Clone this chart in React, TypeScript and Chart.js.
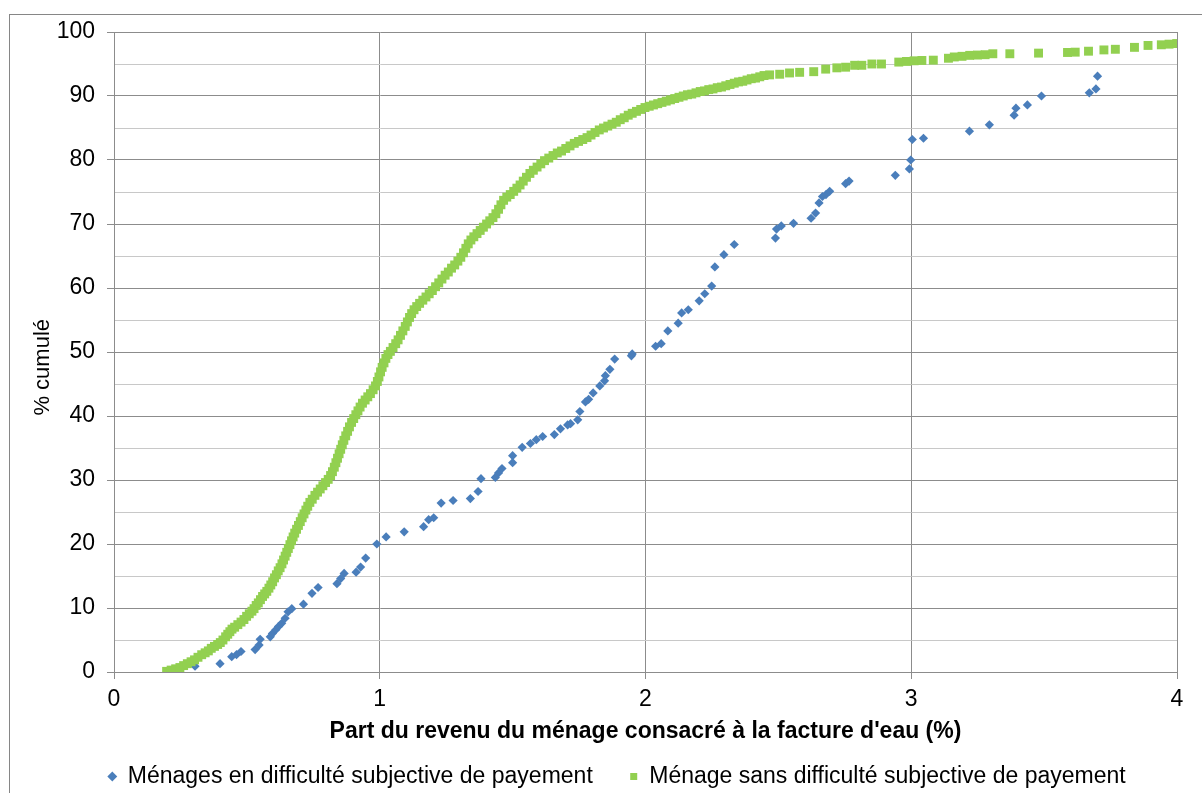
import React, { useEffect, useRef } from "react";
import { Chart, registerables } from "chart.js";

Chart.register(...registerables);

const FONT = '"Liberation Sans", Arial, sans-serif';

const seriesNames = [
  "Ménages en difficulté subjective de payement",
  "Ménage sans difficulté subjective de payement",
];
const xTitle = "Part du revenu du ménage consacré à la facture d'eau (%)";
const yTitle = "% cumulé";

const xRange = [0, 4];
const yRange = [0, 100];

// Ménages en difficulté (blue diamonds): [part du revenu %, % cumulé]
const bluePoints: [number, number][] = [
  [0.305, 0.9], [0.399, 1.3], [0.443, 2.4], [0.461, 2.7], [0.478, 3.2], [0.531, 3.5], [0.546, 4.2],
  [0.55, 5.1], [0.588, 5.5], [0.596, 6.0], [0.609, 6.6], [0.619, 7.1], [0.631, 7.6], [0.644, 8.4],
  [0.655, 9.4], [0.669, 9.9], [0.713, 10.6], [0.745, 12.3], [0.768, 13.2], [0.839, 13.8], [0.853, 14.6],
  [0.866, 15.4], [0.911, 15.6], [0.928, 16.4], [0.947, 17.8], [0.989, 20.0], [1.024, 21.1], [1.092, 21.9],
  [1.165, 22.7], [1.184, 23.8], [1.203, 24.1], [1.231, 26.4], [1.276, 26.8], [1.341, 27.1], [1.37, 28.2],
  [1.381, 30.2], [1.435, 30.4], [1.447, 31.1], [1.46, 31.8], [1.5, 32.7], [1.5, 33.8], [1.536, 35.1],
  [1.567, 35.7], [1.589, 36.3], [1.613, 36.8], [1.657, 37.1], [1.68, 38.0], [1.707, 38.6], [1.718, 38.8],
  [1.745, 39.4], [1.753, 40.7], [1.774, 42.2], [1.786, 42.6], [1.803, 43.6], [1.828, 44.7], [1.846, 45.5],
  [1.849, 46.3], [1.866, 47.3], [1.884, 48.9], [1.947, 49.4], [1.95, 49.7], [2.038, 50.9], [2.059, 51.3],
  [2.084, 53.3], [2.123, 54.5], [2.136, 56.1], [2.161, 56.6], [2.202, 58.0], [2.223, 59.1], [2.249, 60.3],
  [2.261, 63.3], [2.295, 65.2], [2.334, 66.8], [2.489, 67.8], [2.493, 69.2], [2.511, 69.7], [2.557, 70.1],
  [2.623, 70.9], [2.64, 71.7], [2.653, 73.3], [2.666, 74.3], [2.679, 74.6], [2.693, 75.1], [2.753, 76.3],
  [2.766, 76.7], [2.94, 77.6], [2.993, 78.6], [2.998, 80.0], [3.004, 83.2], [3.046, 83.4], [3.219, 84.5],
  [3.294, 85.5], [3.387, 87.0], [3.394, 88.1], [3.437, 88.6], [3.49, 90.0], [3.67, 90.5], [3.695, 91.1],
  [3.701, 93.1],
];

// Ménages sans difficulté (green squares): [part du revenu %, % cumulé]
const greenPoints: [number, number][] = [
  [0.198, 0.1], [0.215, 0.3], [0.232, 0.5], [0.248, 0.7], [0.262, 1.0], [0.276, 1.3], [0.29, 1.6],
  [0.303, 1.9], [0.316, 2.3], [0.33, 2.7], [0.343, 3.0], [0.355, 3.3], [0.366, 3.7], [0.378, 4.0],
  [0.39, 4.3], [0.4, 4.6], [0.41, 5.0], [0.42, 5.5], [0.428, 5.9], [0.436, 6.3], [0.444, 6.7],
  [0.454, 7.0], [0.466, 7.4], [0.478, 7.8], [0.489, 8.2], [0.499, 8.7], [0.509, 9.1], [0.519, 9.5],
  [0.527, 9.9], [0.535, 10.4], [0.543, 10.8], [0.551, 11.3], [0.559, 11.8], [0.567, 12.2], [0.575, 12.6],
  [0.583, 13.1], [0.59, 13.6], [0.597, 14.1], [0.604, 14.7], [0.611, 15.2], [0.618, 15.8], [0.625, 16.3],
  [0.632, 16.9], [0.638, 17.5], [0.644, 18.1], [0.65, 18.7], [0.656, 19.3], [0.662, 19.9], [0.668, 20.5],
  [0.674, 21.1], [0.68, 21.7], [0.687, 22.3], [0.694, 22.9], [0.701, 23.5], [0.708, 24.1], [0.715, 24.7],
  [0.722, 25.3], [0.729, 25.9], [0.737, 26.5], [0.746, 27.0], [0.756, 27.6], [0.766, 28.1], [0.776, 28.6],
  [0.786, 29.1], [0.796, 29.6], [0.806, 30.1], [0.815, 30.7], [0.822, 31.3], [0.829, 32.0], [0.835, 32.7],
  [0.841, 33.4], [0.847, 34.1], [0.853, 34.8], [0.859, 35.5], [0.865, 36.2], [0.872, 36.9], [0.879, 37.6],
  [0.886, 38.3], [0.894, 39.0], [0.902, 39.6], [0.91, 40.2], [0.918, 40.8], [0.926, 41.4], [0.935, 42.0],
  [0.945, 42.5], [0.955, 43.0], [0.965, 43.5], [0.975, 44.1], [0.984, 44.7], [0.991, 45.4], [0.997, 46.1],
  [1.003, 46.9], [1.009, 47.6], [1.016, 48.3], [1.023, 49.0], [1.031, 49.6], [1.04, 50.1], [1.05, 50.7],
  [1.06, 51.3], [1.069, 51.9], [1.078, 52.6], [1.087, 53.3], [1.096, 54.0], [1.104, 54.7], [1.112, 55.4],
  [1.12, 56.0], [1.129, 56.6], [1.139, 57.1], [1.15, 57.6], [1.162, 58.1], [1.174, 58.6], [1.186, 59.1],
  [1.198, 59.6], [1.21, 60.2], [1.222, 60.8], [1.234, 61.4], [1.246, 62.0], [1.258, 62.5], [1.27, 63.1],
  [1.282, 63.6], [1.294, 64.2], [1.305, 64.8], [1.315, 65.5], [1.324, 66.2], [1.333, 66.9], [1.343, 67.5],
  [1.354, 68.0], [1.366, 68.5], [1.378, 69.0], [1.39, 69.5], [1.402, 70.0], [1.414, 70.5], [1.426, 71.0],
  [1.437, 71.6], [1.447, 72.3], [1.456, 73.0], [1.466, 73.7], [1.478, 74.2], [1.491, 74.6], [1.504, 75.1],
  [1.516, 75.6], [1.528, 76.1], [1.54, 76.7], [1.552, 77.3], [1.565, 77.9], [1.578, 78.4], [1.592, 78.9],
  [1.606, 79.4], [1.62, 79.9], [1.636, 80.3], [1.652, 80.7], [1.668, 81.1], [1.684, 81.4], [1.7, 81.8],
  [1.716, 82.2], [1.732, 82.6], [1.748, 82.9], [1.764, 83.2], [1.78, 83.5], [1.795, 83.9], [1.81, 84.3],
  [1.826, 84.7], [1.842, 85.0], [1.858, 85.3], [1.874, 85.6], [1.89, 85.9], [1.905, 86.3], [1.92, 86.6],
  [1.935, 87.0], [1.95, 87.3], [1.966, 87.6], [1.982, 87.9], [1.998, 88.2], [2.014, 88.4], [2.03, 88.6],
  [2.046, 88.8], [2.062, 89.0], [2.078, 89.2], [2.094, 89.4], [2.11, 89.6], [2.126, 89.8], [2.142, 90.0],
  [2.158, 90.2], [2.174, 90.3], [2.19, 90.5], [2.206, 90.7], [2.222, 90.8], [2.238, 91.0], [2.254, 91.1],
  [2.27, 91.3], [2.286, 91.4], [2.302, 91.6], [2.318, 91.8], [2.334, 92.0], [2.35, 92.2], [2.366, 92.3],
  [2.382, 92.5], [2.398, 92.7], [2.414, 92.8], [2.43, 93.0], [2.446, 93.2], [2.467, 93.3], [2.505, 93.4],
  [2.542, 93.6], [2.58, 93.7], [2.633, 93.8], [2.678, 94.2], [2.72, 94.4], [2.753, 94.5], [2.787, 94.8],
  [2.814, 94.8], [2.852, 95.0], [2.888, 95.0], [2.953, 95.3], [2.982, 95.4], [3.011, 95.5], [3.04, 95.55],
  [3.083, 95.6], [3.14, 95.9], [3.162, 96.1], [3.191, 96.2], [3.22, 96.35], [3.249, 96.4], [3.278, 96.45],
  [3.307, 96.6], [3.371, 96.6], [3.479, 96.7], [3.588, 96.8], [3.617, 96.85], [3.667, 97.0], [3.725, 97.2],
  [3.768, 97.3], [3.84, 97.6], [3.891, 97.9], [3.941, 98.0], [3.97, 98.1], [3.999, 98.2],
];

const BLUE = "#4A7EBB";
const GREEN = "#92D050";
const MAJOR = "#8C8C8C";
const MINOR = "#C8C8C8";

export default function App() {
  const ref = useRef<HTMLCanvasElement | null>(null);

  useEffect(() => {
    if (!ref.current) return;
    const frame = {
      id: "frame",
      beforeDraw(chart: any) {
        const ctx = chart.ctx;
        ctx.save();
        ctx.strokeStyle = "#868686";
        ctx.lineWidth = 1;
        ctx.strokeRect(9.5, 14.5, 1400, 1000);
        ctx.restore();
      },
    };
    const chart = new Chart(ref.current, {
      type: "scatter",
      data: {
        datasets: [
          {
            label: seriesNames[0],
            data: bluePoints.map(([x, y]) => ({ x, y })),
            pointStyle: "rectRot",
            pointRadius: 4.6,
            pointHoverRadius: 4.6,
            backgroundColor: BLUE,
            borderColor: BLUE,
            borderWidth: 0,
            order: 1,
          },
          {
            label: seriesNames[1],
            data: greenPoints.map(([x, y]) => ({ x, y })),
            pointStyle: "rect",
            pointRadius: 6.3,
            pointHoverRadius: 6.3,
            backgroundColor: GREEN,
            borderColor: GREEN,
            borderWidth: 0,
            order: 0,
          },
        ],
      },
      options: {
        responsive: false,
        animation: false,
        events: [],
        layout: { padding: { left: 32, right: 0, top: 32, bottom: -5 } },
        plugins: {
          tooltip: { enabled: false },
          legend: {
            position: "bottom",
            labels: {
              usePointStyle: true,
              boxWidth: 8,
              boxHeight: 7,
              padding: 5,
              color: "#000",
              font: { family: FONT, size: 23 },
              sort: (a: any, b: any) => a.datasetIndex - b.datasetIndex,
              generateLabels: (c: any) => {
                const items = (Chart.defaults.plugins.legend.labels as any).generateLabels(c);
                items.forEach((it: any) => {
                  if (it.datasetIndex === 0) it.text = it.text + "\u00A0\u00A0\u00A0\u00A0\u00A0";
                });
                return items;
              },
            },
          },
        },
        scales: {
          x: {
            type: "linear",
            position: "bottom",
            min: xRange[0],
            max: xRange[1],
            afterFit: (s: any) => {
              s.height = 88;
            },
            ticks: {
              stepSize: 1,
              color: "#000",
              font: { family: FONT, size: 23 },
              padding: 7,
              maxRotation: 0,
              callback: (v: any) => String(v),
            },
            grid: { color: MAJOR, tickColor: MAJOR, tickLength: 7, lineWidth: 1 },
            border: { color: MAJOR },
            title: {
              display: true,
              text: xTitle,
              color: "#000",
              font: { family: FONT, size: 23, weight: "bold", lineHeight: 1.2 },
              padding: { top: 0, bottom: 15 },
            },
          },
          y: {
            type: "linear",
            position: "left",
            min: yRange[0],
            max: yRange[1],
            afterFit: (s: any) => {
              s.width = 82;
            },
            ticks: {
              stepSize: 5,
              autoSkip: false,
              color: "#000",
              font: { family: FONT, size: 23 },
              padding: 12,
              callback: (v: any) => (Number(v) % 10 === 0 ? String(v) : ""),
            },
            grid: {
              color: (c: any) => (c.tick && c.tick.value % 10 === 0 ? MAJOR : MINOR),
              tickColor: (c: any) => (c.tick && c.tick.value % 10 === 0 ? MAJOR : "rgba(0,0,0,0)"),
              tickLength: 7,
              lineWidth: 1,
            },
            border: { color: MAJOR },
            title: {
              display: true,
              text: yTitle + "\u00A0\u00A0\u00A0\u00A0\u00A0",
              color: "#000",
              font: { family: FONT, size: 22, lineHeight: 1 },
              padding: { top: 0, bottom: 0 },
            },
          },
          yRight: {
            type: "linear",
            position: "right",
            display: true,
            afterFit: (s: any) => {
              s.width = 25;
            },
            grid: { display: false, drawTicks: false },
            border: { display: false },
            ticks: { display: false },
          },
        },
      },
      plugins: [frame],
    } as any);
    return () => chart.destroy();
  }, []);

  return (
    <div style={{ position: "absolute", left: 0, top: 0, width: 1202, height: 793 }}>
      <canvas ref={ref} width={1202} height={793} style={{ display: "block", width: 1202, height: 793 }} />
    </div>
  );
}
